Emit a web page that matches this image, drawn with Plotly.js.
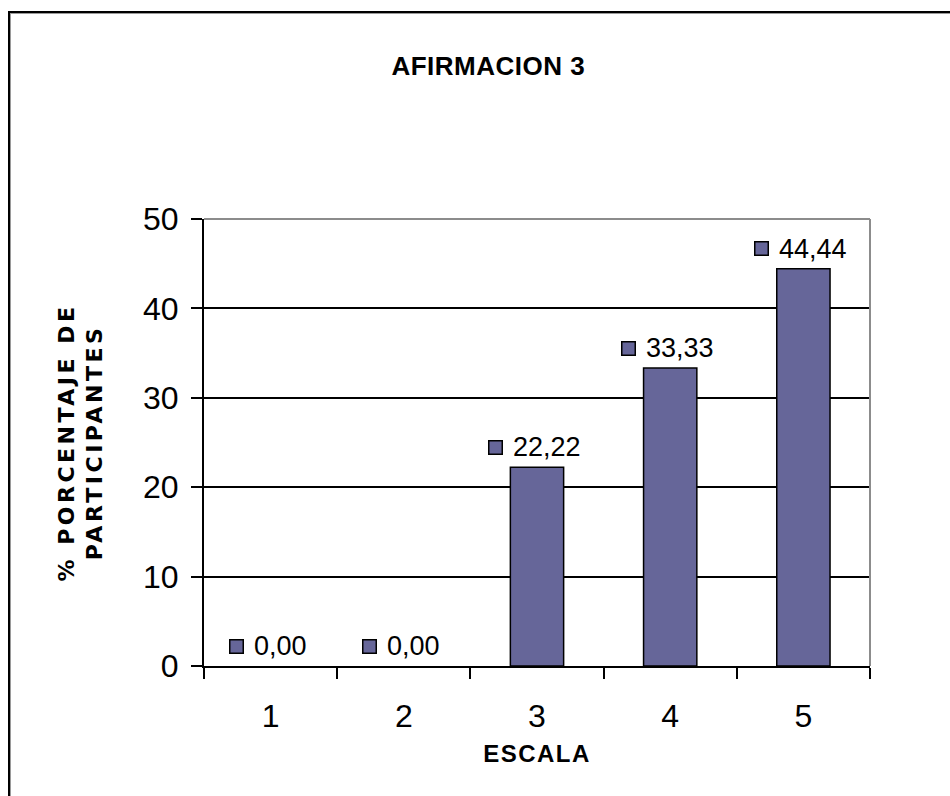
<!DOCTYPE html>
<html>
<head>
<meta charset="utf-8">
<script src="https://cdn.plot.ly/plotly-3.0.1.min.js"></script>
<style>
  html, body { margin:0; padding:0; overflow:hidden; background:#fff; }
  #chart { position:absolute; left:0; top:0; width:950px; height:796px; }
  #frame { position:absolute; left:8px; top:11px; width:1000px; height:900px;
           border-left:2px solid #000; border-top:2px solid #000;
           box-shadow: inset 1px 1px 0 #9a9a9a; pointer-events:none; }
</style>
</head>
<body>
<div id="chart"></div>
<div id="frame"></div>
<script>
const categories = ["1", "2", "3", "4", "5"];
const values = [0.00, 0.00, 22.22, 33.33, 44.44];
const yTicks = [0, 10, 20, 30, 40, 50];
const chartTitle = "AFIRMACION 3";
const xTitle = "ESCALA";
const yTitleLines = ["% PORCENTAJE DE", "PARTICIPANTES"];

const barColor = "#666699";
const labelFont = { family: "Liberation Sans, Arial, sans-serif", size: 27, color: "#000" };

function fmt(v) { return v.toFixed(2).replace(".", ","); }
function textWidth(s) {
  let w = 0;
  for (const ch of s) w += (ch === "," ? 7.5 : 15);
  return w;
}

const annotations = [];
categories.forEach((c, i) => {
  const t = fmt(values[i]);
  const tw = textWidth(t);
  const group = 15 + 8 + tw;
  const left = -group / 2 - 4;
  annotations.push({
    x: i, y: values[i], xref: "x", yref: "y",
    text: " ", showarrow: false, width: 12, height: 12,
    bgcolor: barColor, bordercolor: "#000", borderwidth: 1.5, borderpad: 0,
    font: { size: 1 }, xanchor: "center", yanchor: "middle",
    xshift: left + 7.5, yshift: 20
  });
  annotations.push({
    x: i, y: values[i], xref: "x", yref: "y",
    text: t, showarrow: false, font: labelFont,
    xanchor: "left", yanchor: "middle",
    xshift: left + 23, yshift: 20
  });
});

const trace = {
  type: "bar",
  x: categories,
  y: values,
  width: 0.4,
  marker: { color: barColor, line: { color: "#000", width: values.map(v => v > 0 ? 1.5 : 0) } },
  hoverinfo: "none"
};

const tickFont = { family: "Liberation Sans, Arial, sans-serif", size: 32, color: "#000" };

const layout = {
  width: 950, height: 796,
  margin: { l: 204, r: 80, t: 219, b: 130 },
  paper_bgcolor: "#fff", plot_bgcolor: "#fff",
  showlegend: false,
  title: {
    text: '<span style="letter-spacing:0.5px">' + chartTitle + '</span>',
    font: { family: "Liberation Sans, Arial, sans-serif", size: 26, color: "#000", weight: "bold" },
    x: 0.514, xanchor: "center", y: 0.917, yanchor: "middle"
  },
  xaxis: {
    type: "category",
    range: [-0.5, 4.5],
    tickson: "boundaries",
    ticks: "outside", ticklen: 11, tickwidth: 2, tickcolor: "#000",
    showline: true, linecolor: "#000", linewidth: 2,
    showgrid: false, zeroline: false,
    tickfont: tickFont,
    ticklabelstandoff: 21,
    title: {
      text: '<span style="letter-spacing:1.5px">' + xTitle + '</span>',
      font: { family: "Liberation Sans, Arial, sans-serif", size: 24, color: "#000", weight: "bold" },
      standoff: 12
    }
  },
  yaxis: {
    range: [0, 50],
    tickvals: yTicks,
    ticks: "outside", ticklen: 11, tickwidth: 2, tickcolor: "#000",
    showline: true, linecolor: "#000", linewidth: 2,
    showgrid: true, gridcolor: "#000", gridwidth: 2,
    zeroline: false,
    tickfont: tickFont,
    ticklabelstandoff: 6,
    title: {
      text: yTitleLines.map(s => '<span style="letter-spacing:3.5px">' + s + '</span>').join("<br>"),
      font: { family: "DejaVu Sans, Verdana, sans-serif", size: 22, color: "#000", weight: "bold" },
      standoff: 34
    }
  },
  shapes: [
    { type: "line", xref: "paper", yref: "paper", x0: 0, x1: 1, y0: 1, y1: 1,
      line: { color: "#8c8c8c", width: 2 }, layer: "above" },
    { type: "line", xref: "paper", yref: "paper", x0: 1, x1: 1, y0: 0, y1: 1,
      line: { color: "#8c8c8c", width: 2 }, layer: "above" }
  ],
  annotations: annotations,
  hovermode: false
};

Plotly.newPlot("chart", [trace], layout, { displayModeBar: false, staticPlot: true });
</script>
</body>
</html>
